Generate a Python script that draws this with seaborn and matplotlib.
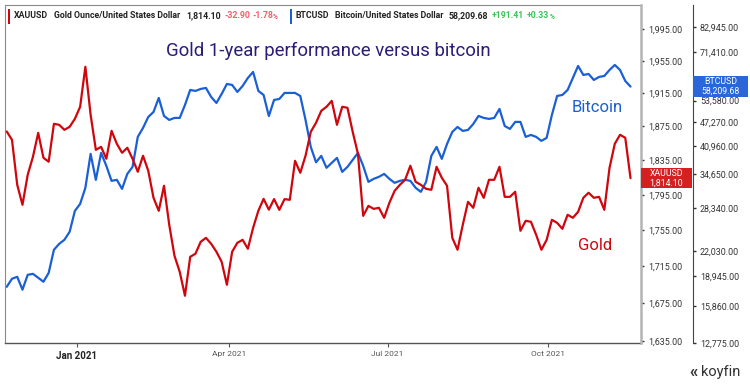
import pandas as pd
import numpy as np
import matplotlib
matplotlib.use('Agg')
import matplotlib.pyplot as plt
import seaborn as sns
from matplotlib.patches import Rectangle
from matplotlib.ticker import FixedLocator, FuncFormatter, NullLocator

# --- data (one value every 3 calendar days) ---
start_date = '2020-11-25'

gold = [
    1868.9, 1859.0, 1806.4, 1783.5, 1818.0, 1839.0, 1867.3, 1837.8, 1833.2, 1878.1,
    1876.9, 1870.9, 1874.5, 1884.1, 1898.6, 1947.7, 1888.9, 1847.2, 1850.7, 1836.7,
    1869.7, 1854.3, 1843.7, 1849.6, 1836.7, 1821.5, 1840.2, 1822.6, 1791.5, 1776.7,
    1805.3, 1760.9, 1726.4, 1708.9, 1683.0, 1725.3, 1728.7, 1741.9, 1746.3, 1739.7,
    1730.9, 1719.8, 1694.8, 1730.9, 1740.8, 1744.1, 1734.2, 1757.5, 1776.7, 1790.3,
    1778.0, 1790.0, 1777.8, 1790.0, 1789.2, 1834.3, 1820.3, 1840.2, 1868.5, 1879.3,
    1893.7, 1898.6, 1905.8, 1876.9, 1898.6, 1897.4, 1868.5, 1842.5, 1771.0, 1782.3,
    1778.9, 1780.1, 1768.8, 1785.8, 1799.5, 1806.4, 1812.2, 1828.5, 1809.9, 1806.4,
    1801.8, 1800.7, 1827.3, 1814.5, 1805.3, 1746.3, 1733.1, 1760.9, 1786.9, 1780.1,
    1803.0, 1791.5, 1812.2, 1812.2, 1827.3, 1792.6, 1792.6, 1798.4, 1754.2, 1765.4,
    1764.3, 1749.7, 1733.1, 1744.1, 1766.5, 1763.1, 1756.4, 1772.2, 1768.8, 1775.5,
    1791.5, 1797.3, 1791.5, 1792.6, 1777.8, 1826.2, 1854.3, 1865.0, 1861.4, 1814.1,
]

btc = [
    17810, 18680, 18900, 17510, 19120, 19230, 18790, 18350, 19340, 22170,
    22960, 23520, 24660, 27910, 29080, 31990, 39090, 33530, 39320, 36420,
    33330, 33530, 31790, 34730, 36200, 43230, 45580, 48640, 50100, 54430,
    48930, 47790, 48360, 48360, 52210, 57060, 56730, 57400, 57740, 54740,
    52840, 55730, 59120, 58770, 56390, 58430, 61250, 63470, 56730, 55400,
    48900, 53780, 54100, 56060, 56060, 56060, 55070, 47790, 40740, 37200,
    38630, 36000, 37070, 38180, 35150, 36200, 37730, 39320, 36420, 33130,
    33730, 34130, 34730, 33730, 32940, 33330, 33530, 33330, 31990, 31230,
    33130, 38630, 40740, 37960, 41460, 44520, 45840, 44780, 45050, 46650,
    48930, 48360, 48080, 48360, 51000, 46100, 45320, 47230, 47230, 43230,
    43730, 43230, 42220, 42980, 49220, 55070, 55400, 57060, 61250, 65760,
    62350, 62720, 60530, 61620, 61980, 64220, 66150, 64220, 60170, 58209.68,
]

gold_ticks = [1635, 1675, 1715, 1755, 1795, 1835, 1875, 1915, 1955, 1995]
btc_ticks = [12775, 15860, 18945, 22030, 28340, 34650, 40960, 47270, 53580, 71410, 82945]
x_tick_dates = ['2021-01-04', '2021-04-01', '2021-07-01', '2021-10-01']
x_tick_labels = ['Jan 2021', 'Apr 2021', 'Jul 2021', 'Oct 2021']

GOLD_COLOR = '#d0060e'
BTC_COLOR = '#1a5fd6'
TITLE_COLOR = '#2c1c78'

df = pd.DataFrame({
    'date': pd.date_range(start_date, periods=len(gold), freq='3D'),
    'gold': gold,
    'btc': btc,
})

sns.set_theme(style='white')
plt.rcParams['font.family'] = ['Roboto', 'DejaVu Sans']

W, H = 750, 387
fig = plt.figure(figsize=(W / 100, H / 100), dpi=100)
fig.patch.set_facecolor('white')

ax = fig.add_axes([5 / W, 44 / H, 636 / W, 338 / H])   # bitcoin (outer scale)
ax_g = ax.twinx()                                        # gold (inner scale)

sns.lineplot(data=df, x='date', y='btc', ax=ax, color=BTC_COLOR, linewidth=1.6)
sns.lineplot(data=df, x='date', y='gold', ax=ax_g, color=GOLD_COLOR, linewidth=1.6)

for a in (ax, ax_g):
    a.set_yscale('log')
    a.set_xlabel('')
    a.set_ylabel('')
    a.yaxis.set_minor_locator(NullLocator())

ax.set_xlim(pd.Timestamp('2020-11-24'), pd.Timestamp('2021-11-23'))
ax.set_ylim(12775, 94300)
ax_g.set_ylim(1633, 2026)

fmt = FuncFormatter(lambda v, p: f'{v:,.2f}')
ax.yaxis.set_major_locator(FixedLocator(btc_ticks))
ax.yaxis.set_major_formatter(fmt)
ax.yaxis.tick_right()
ax_g.yaxis.set_major_locator(FixedLocator(gold_ticks))
ax_g.yaxis.set_major_formatter(fmt)

ax.tick_params(axis='y', which='major', right=True, left=False, length=2, width=1,
               pad=3, labelsize=6.4, colors='#333333')
ax_g.tick_params(axis='y', which='major', length=2, width=1, pad=3,
                 labelsize=6.4, colors='#333333')

# spines
ax.spines['right'].set_position(('axes', 1 + 52 / 636))
ax.spines['right'].set_color('#444444')
ax.spines['right'].set_linewidth(0.8)
ax.spines['left'].set_color('#8a8a8a')
ax.spines['left'].set_linewidth(0.8)
ax.spines['top'].set_color('#8a8a8a')
ax.spines['top'].set_linewidth(0.8)
ax.spines['bottom'].set_color('#555555')
ax.spines['bottom'].set_linewidth(1.0)
for s in ('left', 'top', 'bottom'):
    ax_g.spines[s].set_visible(False)
ax_g.spines['right'].set_color('#b4b4b4')
ax_g.spines['right'].set_linewidth(1.8)

# x axis
ax.set_xticks(pd.to_datetime(x_tick_dates))
ax.set_xticklabels(x_tick_labels)
ax.tick_params(axis='x', bottom=True, length=3, width=0.8, pad=3, labelsize=6,
               colors='#555555')
for lbl in ax.get_xticklabels():
    if lbl.get_text().startswith('Jan'):
        lbl.set_fontsize(7)
        lbl.set_fontweight('bold')
        lbl.set_color('#222222')

# titles and in-chart labels
fig.text(328.5 / W, 1 - 50.5 / H, 'Gold 1-year performance versus bitcoin',
         ha='center', va='center', fontsize=13.4, color=TITLE_COLOR)
fig.text(597 / W, 1 - 107 / H, 'Bitcoin', ha='center', va='center',
         fontsize=12, color=BTC_COLOR)
fig.text(595 / W, 1 - 245 / H, 'Gold', ha='center', va='center',
         fontsize=12, color=GOLD_COLOR)

# legend strip at the top
ly = 1 - 16 / H
fig.add_artist(Rectangle((7.5 / W, 1 - 24 / H), 2 / W, 15 / H,
                         transform=fig.transFigure, color=GOLD_COLOR, lw=0))
fig.add_artist(Rectangle((290 / W, 1 - 24 / H), 2 / W, 15 / H,
                         transform=fig.transFigure, color=BTC_COLOR, lw=0))
legend_bits = [
    (14, 'XAUUSD', '#222222'),
    (54, 'Gold Ounce/United States Dollar', '#222222'),
    (186, '1,814.10', '#222222'),
    (224, '-32.90', '#f0606a'),
    (252, '-1.78', '#f0606a'),
    (296, 'BTCUSD', '#222222'),
    (335, 'Bitcoin/United States Dollar', '#222222'),
    (449, '58,209.68', '#222222'),
    (492, '+191.41', '#3cc35a'),
    (527, '+0.33', '#3cc35a'),
]
for x, s, c in legend_bits:
    fig.text(x / W, ly, s, ha='left', va='center', fontsize=6.3, color=c,
             fontweight='bold')
# small percent signs after the change values
fig.text(273 / W, ly - 0.5 / H, '%', ha='left', va='center', fontsize=4.8,
         color='#f0606a', fontweight='bold')
fig.text(549.5 / W, ly - 0.5 / H, '%', ha='left', va='center', fontsize=4.8,
         color='#3cc35a', fontweight='bold')


def value_box(axis, value, x0, x1, text, color):
    ydisp = axis.transData.transform((axis.get_xlim()[0], value))[1]
    yfrac = ydisp / fig.bbox.height
    h = 20.5 / H
    fig.add_artist(Rectangle((x0 / W, yfrac - h / 2), (x1 - x0) / W, h,
                             transform=fig.transFigure, color=color, lw=0,
                             zorder=5))
    fig.text((x0 + x1) / 2 / W, yfrac, text, ha='center', va='center',
             color='white', fontsize=6.3, linespacing=1.05, zorder=6)


value_box(ax_g, gold[-1], 641, 692, 'XAUUSD\n1,814.10', '#d42020')
value_box(ax, btc[-1], 693, 748, 'BTCUSD\n58,209.68', '#2a66da')

# koyfin mark
fig.text(694 / W, 1 - 373 / H, '\u00ab', ha='center', va='center',
         fontsize=12, fontweight='bold', color='#333333')
fig.text(721 / W, 1 - 372 / H, 'koyfin', ha='center', va='center',
         fontsize=10.5, color='#333333')

fig.savefig('out.png', dpi=100, facecolor='white')
